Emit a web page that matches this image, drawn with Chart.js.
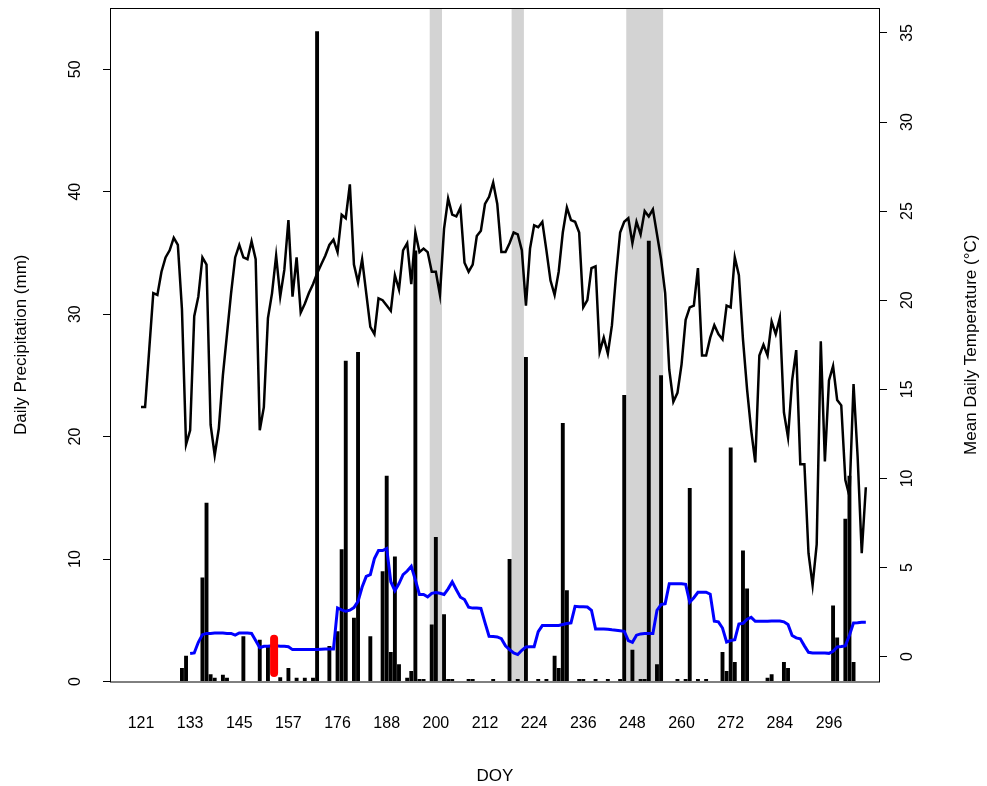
<!DOCTYPE html>
<html>
<head>
<meta charset="utf-8">
<title>Daily precipitation and temperature</title>
<script src="https://cdn.jsdelivr.net/npm/chart.js@4/dist/chart.umd.min.js"></script>
<style>
  html, body { margin: 0; padding: 0; background: #fff; }
</style>
</head>
<body>
<canvas id="weather" width="987" height="786"></canvas>
<script>
// day of year for each record (no records for 161-167)
const doy = [];
for (let d = 121; d <= 160; d++) doy.push(d);
for (let d = 168; d <= 305; d++) doy.push(d);

const doyTicks = [121, 133, 145, 157, 176, 188, 200, 212, 224, 236, 248, 260, 272, 284, 296];
const precipTicks = [0, 10, 20, 30, 40, 50];
const tempTicks = [0, 5, 10, 15, 20, 25, 30, 35];

// daily precipitation (mm)
const precip = [
  0, 0, 0, 0, 0, 0, 0, 0, 0, 0,
  1.1, 2.1, 0, 0, 0, 8.5, 14.6, 0.6, 0.3, 0,
  0.55, 0.3, 0, 0, 0, 3.7, 0, 0, 0, 3.4,
  0, 2.9, 0, 0, 0.35, 0, 1.1, 0, 0.3, 0,
  0.3, 0, 0.3, 53.1, 0, 0, 2.9, 0, 4.1, 10.8,
  26.2, 0, 5.2, 26.9, 0, 0, 3.7, 0, 0, 9.0,
  16.8, 2.4, 10.2, 1.4, 0, 0.3, 0.85, 35.2, 0.2, 0.2,
  0, 4.65, 11.8, 0, 5.5, 0.2, 0.2, 0, 0, 0,
  0.2, 0.2, 0, 0, 0, 0, 0.2, 0, 0, 0,
  10.0, 0, 0.2, 0, 26.5, 0, 0, 0.2, 0, 0.2,
  0, 2.1, 1.1, 21.1, 7.45, 0, 0, 0.2, 0.2, 0,
  0, 0.2, 0, 0, 0.2, 0, 0, 0.2, 23.4, 0,
  2.6, 0, 0.2, 0.2, 36.0, 0, 1.4, 25.0, 0, 0,
  0, 0.2, 0, 0.2, 15.8, 0, 0.2, 0, 0.2, 0,
  0, 0, 2.4, 0.85, 19.1, 1.6, 0, 10.7, 7.6, 0,
  0, 0, 0, 0.3, 0.6, 0, 0, 1.6, 1.1, 0,
  0, 0, 0, 0, 0, 0, 0, 0, 0, 6.2,
  3.6, 0, 13.3, 16.8, 1.6, 0, 0, 0
];

// mean daily temperature (°C)
const meanTemp = [
  14.0, 14.0, 17.2, 20.4, 20.3, 21.6, 22.4, 22.8, 23.5, 23.1,
  19.5, 11.9, 12.7, 19.1, 20.2, 22.4, 22.0, 13.0, 11.3, 12.8,
  15.8, 18.1, 20.4, 22.4, 23.1, 22.4, 22.3, 23.3, 22.3, 12.7,
  14.0, 19.0, 20.4, 22.5, 20.2, 21.7, 24.5, 20.2, 22.4, 19.3,
  19.8, 20.4, 20.9, 21.5, 22.0, 22.5, 23.1, 23.4, 22.7, 24.8,
  24.6, 26.5, 22.0, 21.0, 22.3, 20.4, 18.5, 18.1, 20.1, 20.0,
  19.7, 19.4, 21.4, 20.6, 22.8, 23.2, 20.9, 23.8, 22.7, 22.9,
  22.7, 21.6, 21.6, 20.3, 24.0, 25.7, 24.8, 24.7, 25.2, 22.1,
  21.6, 22.0, 23.6, 23.9, 25.4, 25.8, 26.6, 25.4, 22.7, 22.7,
  23.2, 23.8, 23.7, 22.8, 19.7, 22.9, 24.2, 24.1, 24.4, 22.8,
  21.1, 20.3, 21.6, 23.8, 25.2, 24.5, 24.4, 23.8, 19.6, 20.0,
  21.8, 21.9, 17.1, 17.9, 17.0, 18.6, 21.4, 23.8, 24.4, 24.6,
  23.2, 24.4, 23.7, 25.0, 24.7, 25.1, 23.7, 22.3, 20.4, 16.1,
  14.3, 14.8, 16.4, 18.9, 19.6, 19.7, 21.8, 16.9, 16.9, 17.9,
  18.6, 18.1, 17.8, 19.7, 19.6, 22.4, 21.4, 17.8, 15.0, 12.7,
  10.9, 16.9, 17.5, 16.9, 18.8, 18.1, 19.0, 13.7, 12.3, 15.5,
  17.2, 10.8, 10.8, 5.8, 4.0, 6.3, 17.7, 10.95, 15.5, 16.3,
  14.4, 14.1, 9.9, 9.0, 15.3, 11.2, 5.8, 9.5
];

// running mean, right axis (°C)
const runningMean = [
  null, null, null, null, null, null, null, null, null, null,
  null, null, 0.17, 0.2, 0.8, 1.23, 1.3, 1.3, 1.32, 1.32,
  1.32, 1.3, 1.3, 1.2, 1.32, 1.32, 1.32, 1.3, 0.9, 0.5,
  0.58, 0.58, 0.6, 0.6, 0.58, 0.58, 0.55, 0.39, 0.39, 0.39,
  0.39, 0.39, 0.39, 0.39, 0.41, 0.43, 0.43, 0.43, 2.73, 2.62,
  2.54, 2.6, 2.75, 3.1, 3.9, 4.5, 4.6, 5.5, 5.95, 5.95,
  6.06, 4.2, 3.7, 4.1, 4.6, 4.8, 5.07, 4.3, 3.48, 3.48,
  3.35, 3.55, 3.6, 3.55, 3.48, 3.8, 4.19, 3.75, 3.33, 3.2,
  2.77, 2.72, 2.72, 2.7, 1.9, 1.14, 1.12, 1.1, 1.0, 0.6,
  0.39, 0.2, 0.11, 0.35, 0.54, 0.55, 0.55, 1.4, 1.74, 1.74,
  1.74, 1.74, 1.74, 1.8, 1.85, 1.89, 2.82, 2.8, 2.8, 2.78,
  2.6, 1.55, 1.55, 1.55, 1.53, 1.5, 1.48, 1.45, 1.42, 0.9,
  0.8, 1.2, 1.27, 1.29, 1.29, 1.29, 2.6, 2.92, 2.97, 4.09,
  4.09, 4.09, 4.09, 4.05, 3.05, 3.3, 3.61, 3.61, 3.61, 3.5,
  1.98, 1.95, 1.6, 0.82, 0.9, 0.95, 1.83, 1.87, 2.1, 2.2,
  1.98, 1.98, 1.98, 1.98, 2.0, 2.0, 2.0, 1.95, 1.8, 1.18,
  1.05, 1.0, 0.6, 0.24, 0.2, 0.2, 0.2, 0.2, 0.18, 0.3,
  0.54, 0.56, 0.6, 1.2, 1.89, 1.9, 1.93, 1.93
];

// shaded periods (first and last DOY)
const shadedPeriods = [[199, 201], [219, 221], [247, 255]];

// red marker between DOY 153 and 154, drawn over 0.7-3.5 mm
const markerDoy = 153.5;
const markerRange = [0.7, 3.5];

const FONT = "'Liberation Sans', Arial, Helvetica, sans-serif";

// bar position of a DOY
function dayIndex(d) {
  const whole = Math.floor(d);
  return doy.indexOf(whole) + (d - whole);
}

const xy = arr => arr.map((v, i) => ({ x: i, y: v }));

// keep rotated tick labels from pushing the plot area in
function fixBox(width, height) {
  return s => {
    if (width) s.width = width;
    if (height) s.height = height;
    s.paddingTop = 0;
    s.paddingBottom = 0;
    s.paddingLeft = 0;
    s.paddingRight = 0;
  };
}

const boxAndTitles = {
  id: 'boxAndTitles',
  beforeDatasetsDraw(chart) {
    const { ctx, chartArea: a, scales: { x } } = chart;
    ctx.save();
    ctx.fillStyle = '#d3d3d3';
    shadedPeriods.forEach(([d0, d1]) => {
      const x0 = x.getPixelForValue(dayIndex(d0) - 0.5);
      const x1 = x.getPixelForValue(dayIndex(d1) + 0.5);
      ctx.fillRect(x0, a.top, x1 - x0, a.bottom - a.top);
    });
    ctx.restore();
  },
  afterDraw(chart) {
    const { ctx, chartArea: a } = chart;
    const midY = (a.top + a.bottom) / 2;
    ctx.save();
    ctx.strokeStyle = '#000';
    ctx.lineWidth = 1;
    ctx.strokeRect(a.left + 0.5, a.top + 0.5, a.right - a.left - 1, a.bottom - a.top);

    ctx.fillStyle = '#000';
    ctx.font = '17px ' + FONT;
    ctx.textAlign = 'center';
    ctx.textBaseline = 'middle';
    ctx.fillText('DOY', (a.left + a.right) / 2, 776);
    ctx.restore();

    [['Daily Precipitation (mm)', 21], ['Mean Daily Temperature (\u00B0C)', 971]].forEach(([text, cx]) => {
      ctx.save();
      ctx.fillStyle = '#000';
      ctx.font = '17px ' + FONT;
      ctx.textAlign = 'center';
      ctx.textBaseline = 'middle';
      ctx.translate(cx, midY);
      ctx.rotate(-Math.PI / 2);
      ctx.fillText(text, 0, 0);
      ctx.restore();
    });
  }
};

const tickFont = { family: FONT, size: 16 };

new Chart(document.getElementById('weather'), {
  type: 'bar',
  data: {
    datasets: [
      {
        type: 'line',
        data: [{ x: dayIndex(markerDoy), y: markerRange[0] }, { x: dayIndex(markerDoy), y: markerRange[1] }],
        yAxisID: 'y',
        borderColor: '#ff0000',
        borderWidth: 8,
        borderCapStyle: 'round',
        pointRadius: 0,
        order: 1
      },
      {
        type: 'line',
        data: xy(runningMean),
        yAxisID: 'y1',
        borderColor: '#0000ff',
        borderWidth: 3,
        pointRadius: 0,
        tension: 0,
        order: 2
      },
      {
        type: 'line',
        data: xy(meanTemp),
        yAxisID: 'y1',
        borderColor: '#000000',
        borderWidth: 2.5,
        pointRadius: 0,
        tension: 0,
        order: 3
      },
      {
        type: 'bar',
        data: xy(precip),
        yAxisID: 'y',
        backgroundColor: '#000000',
        barPercentage: 1,
        categoryPercentage: 0.95,
        order: 4
      }
    ]
  },
  options: {
    responsive: false,
    animation: false,
    layout: { padding: { top: 8, left: 0, right: 0, bottom: 0 } },
    plugins: {
      legend: { display: false },
      tooltip: { enabled: false }
    },
    scales: {
      x: {
        type: 'linear',
        offset: false,
        min: -7.57,
        max: 180.46,
        afterBuildTicks: s => { s.ticks = doyTicks.map(d => ({ value: dayIndex(d) })); },
        ticks: {
          callback: v => doy[v],
          font: tickFont,
          color: '#000',
          padding: 24,
          maxRotation: 0,
          autoSkip: false
        },
        grid: { display: false, offset: false },
        border: { display: false },
        afterFit: fixBox(0, 786 - 681.5)
      },
      y: {
        position: 'left',
        min: 0,
        max: 55,
        afterBuildTicks: s => { s.ticks = precipTicks.map(v => ({ value: v })); },
        ticks: {
          font: tickFont,
          color: '#000',
          minRotation: 90,
          maxRotation: 90,
          crossAlign: 'center',
          padding: 19
        },
        grid: { drawOnChartArea: false, tickLength: 7, color: '#000' },
        border: { display: false },
        afterFit: fixBox(110, 0)
      },
      y1: {
        position: 'right',
        min: -1.4,
        max: 36.4,
        afterBuildTicks: s => { s.ticks = tempTicks.map(v => ({ value: v })); },
        ticks: {
          font: tickFont,
          color: '#000',
          minRotation: 90,
          maxRotation: 90,
          crossAlign: 'center',
          padding: 12
        },
        grid: { drawOnChartArea: false, tickLength: 7, color: '#000' },
        border: { display: false },
        afterFit: fixBox(987 - 880, 0)
      }
    }
  },
  plugins: [boxAndTitles]
});
</script>
</body>
</html>
